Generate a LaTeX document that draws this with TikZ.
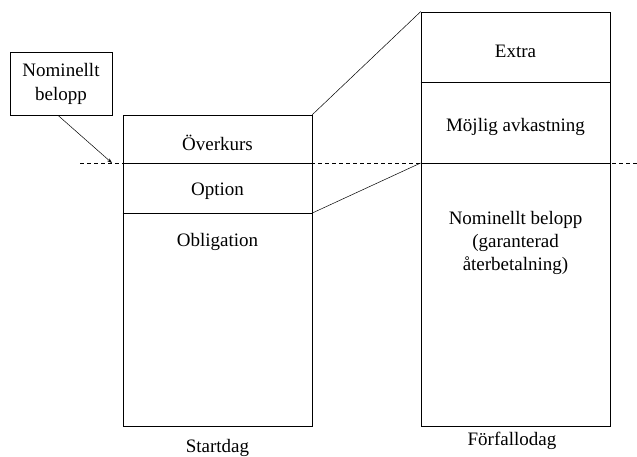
\documentclass[tikz,border=0pt]{standalone}
\usepackage{fontspec}
\setmainfont{Liberation Serif}
\usetikzlibrary{arrows.meta, positioning, calc}

\begin{document}
\begin{tikzpicture}[x=1pt, y=-1pt, >={Stealth[length=5pt,width=3.5pt]}, line width=0.7pt,
    every node/.style={font=\fontsize{19}{23}\selectfont, align=center},
    stapel/.style={draw, minimum width=189pt, inner sep=0pt}]
  \useasboundingbox (0,0) rectangle (637,457);

  % staplarna
  \node[stapel, minimum height=311pt] (start) at (217.5,270.5) {};
  \node[stapel, minimum height=414pt] (slut) at (515.5,219) {};
  \node[draw, minimum width=102pt, minimum height=63pt] (nom) at (61,83.5) {Nominellt\\[1pt]belopp};

  \coordinate (dashL) at (80,163);
  \coordinate (dashR) at (637,163);
  \draw[dash pattern=on 4pt off 3pt, line width=0.6pt] (dashL) -- (dashR);

  % gränser
  \draw (start.west |- dashL) -- (start.east |- dashL);
  \draw (start.west |- 0,213) -- (start.east |- 0,213);
  \draw (slut.west |- 0,82) -- (slut.east |- 0,82);
  \draw (slut.west |- dashL) -- (slut.east |- dashL);

  \draw[line width=0.5pt] (start.north east) -- (slut.north west);
  \draw[line width=0.5pt] (start.east |- 0,213) -- (slut.west |- dashL);
  \draw[->, line width=0.5pt] ($(nom.south)+(-3,0)$) -- (112,163);

  \node (overkurs) at (217.5,143) {Överkurs};
  \node (option) at (217.5,191) {Option};
  \node (oblig) at (217.5,242) {Obligation};
  \node (extra) at (515.5,51) {Extra};
  \node (avk) at (515.5,127) {Möjlig avkastning};
  \node (garanti) at (515.5,243) {Nominellt belopp\\(garanterad\\återbetalning)};
  \node (startdag) at (217.5,448) {Startdag};
  \node (forfall) at (512,441) {Förfallodag};

\end{tikzpicture}
\end{document}
